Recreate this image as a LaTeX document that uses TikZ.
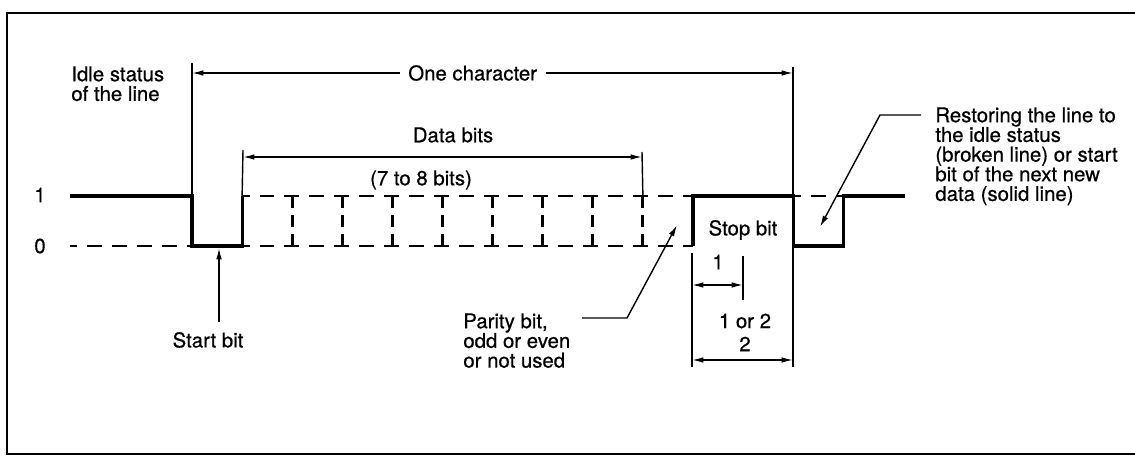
\documentclass[tikz,border=0pt]{standalone}
\usepackage{fontspec}
\setmainfont{TeX Gyre Heros}[BoldFont=TeX Gyre Heros, BoldFeatures={FakeBold=0.6}]
\usetikzlibrary{arrows.meta}

\begin{document}
\begin{tikzpicture}[x=0.02cm, y=-0.02cm, >={Latex[length=6.5pt,width=3.2pt]},
  sig/.style={line width=1.8pt},
  brk/.style={line width=1.7pt, dash pattern=on 8.5pt off 5.67pt, dash phase=4.25pt},
  brkv/.style={line width=1.7pt, dash pattern=on 6.8pt off 3.97pt},
  dim/.style={line width=0.8pt},
  lbl/.style={font=\fontsize{11.6}{11.2}\selectfont\bfseries, inner sep=0pt}]
  \useasboundingbox (0,0) rectangle (1135,459);

  % Frame (open on the right)
  \draw[line width=1.4pt] (1135,13) -- (7,13) -- (7,454) -- (1135,454);

  % Bit boundaries on both levels
  \foreach \k in {0,...,13} {
    \coordinate (hi\k) at ({192+50.1*\k},196);
    \coordinate (lo\k) at ({192+50.1*\k},246);
  }
  \coordinate (idle) at (70,196);
  \coordinate (idlelo) at (70,246);
  \coordinate (tail) at (905,196);

  % Levels
  \node[lbl] (one) at (40,195) {1};
  \node[lbl] (zero) at (40,246) {0};

  % Signal
  \draw[sig] (idle) -- (hi0) -- (lo0) -- (lo1) -- (hi1);
  \draw[brk] (idlelo) -- (lo0);
  \draw[brk] (hi1) -- (hi10);
  \draw[brk] (lo1) -- (lo10);
  \foreach \k in {2,...,9}
    \draw[brkv] (hi\k) -- (lo\k);
  \draw[sig] (lo10) -- (hi10) -- (hi12) -- (lo12) -- (lo13) -- (hi13) -- (tail);
  \draw[brk] (hi12) -- (hi13);

  % Extension lines
  \coordinate (chL) at (192,63);
  \coordinate (chR) at (793,67);
  \coordinate (chB) at (793,367);
  \coordinate (dbLtop) at (243,150);
  \coordinate (dbRtop) at (642,152);
  \coordinate (spT) at (692,253);
  \coordinate (spB) at (692,367);
  \coordinate (s1T) at (743,256);
  \coordinate (s1B) at (743,300);
  \draw[dim] (chL) -- (hi0);
  \draw[dim] (chR) -- (chB);
  \draw[dim] (dbLtop) -- (hi1);
  \draw[dim] (dbRtop) -- (hi9);
  \draw[dim] (spT) -- (spB);
  \draw[dim] (s1T) -- (s1B);

  % One character
  \coordinate (ocL) at (192,73);
  \coordinate (ocR) at (793,73);
  \draw[dim, <->] (ocL) -- node[lbl, pos=0.467, fill=white, inner xsep=5pt] (onechar) {One character} (ocR);
  \node[lbl, anchor=north west, align=left] (idlestat) at (71,66) {Idle status\\of the line};

  % Data bits
  \coordinate (dbL) at (243,157);
  \coordinate (dbR) at (642,157);
  \draw[dim, <->] (dbL) -- (dbR);
  \node[lbl] (databits) at (453,135) {Data bits};
  \node[lbl] (nbits) at (421,180) {(7 to 8 bits)};

  % Start bit
  \node[lbl] (startbit) at (208,340) {Start bit};
  \coordinate (sbtail) at (219,322);
  \coordinate (sbtip) at (219,248);
  \draw[dim, ->] (sbtail) -- (sbtip);

  % Parity bit
  \node[lbl, anchor=north west, align=left] (parity) at (463,313) {Parity bit,\\odd or even\\or not used};
  \coordinate (pl0) at (582,318);
  \coordinate (pl1) at (627,318);
  \coordinate (ptip) at (677,225);
  \draw[dim, ->] (pl0) -- (pl1) -- (ptip);

  % Stop bit
  \node[lbl] (stopbit) at (743,230) {Stop bit};
  \coordinate (d1L) at (692,285);
  \coordinate (d1R) at (743,285);
  \draw[dim, <->] (d1L) -- (d1R);
  \node[lbl] (lenone) at (718,262) {1};
  \coordinate (d2L) at (692,360);
  \coordinate (d2R) at (793,360);
  \draw[dim, <->] (d2L) -- (d2R);
  \node[lbl] (oneortwo) at (745,321) {1 or 2};
  \node[lbl] (lentwo) at (745,344) {2};

  % Restoring the line
  \node[lbl, anchor=north west, align=left] (restore) at (935,107)
    {Restoring the line to\\the idle status\\(broken line) or start\\bit of the next new\\data (solid line)};
  \coordinate (rl0) at (921,115);
  \coordinate (rl1) at (880,115);
  \coordinate (rtip) at (820,227);
  \draw[dim, ->] (rl0) -- (rl1) -- (rtip);
\end{tikzpicture}
\end{document}
